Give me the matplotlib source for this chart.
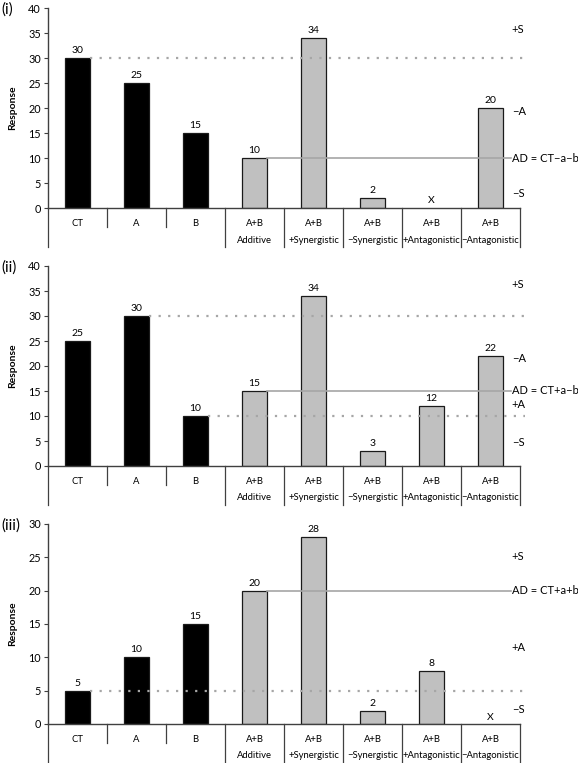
import numpy as np
import matplotlib
matplotlib.use("Agg")
import matplotlib.pyplot as plt

plt.rcParams['font.family'] = ['Lato', 'DejaVu Sans']

# categories (level 1) and groups (level 2)
categories = ["CT", "A", "B", "A+B", "A+B", "A+B", "A+B", "A+B"]
groups = ["", "Additive", "+Synergistic", "\u2212Synergistic", "+Antagonistic", "\u2212Antagonistic"]
group_spans = [(0, 2), (3, 3), (4, 4), (5, 5), (6, 6), (7, 7)]

# panel values, None = not possible ("X")
vals_i = [30, 25, 15, 10, 34, 2, None, 20]
vals_ii = [25, 30, 10, 15, 34, 3, 12, 22]
vals_iii = [5, 10, 15, 20, 28, 2, 8, None]

# reference lines: (level, index of bar the line starts after)
dotted_i = [(30, 0)]
dotted_ii = [(30, 1), (10, 2)]
dotted_iii = [(5, 0)]
ad_i = (10, 3)
ad_ii = (15, 3)
ad_iii = (20, 3)

# right-hand labels
right_i = [("+S", 35.8), ("\u2212A", 19.4), ("AD = CT\u2212a\u2212b", 10), ("\u2212S", 3.0)]
right_ii = [("+S", 36.2), ("\u2212A", 21.6), ("AD = CT+a\u2212b", 15), ("+A", 12.2), ("\u2212S", 4.6)]
right_iii = [("+S", 25.2), ("AD = CT+a+b", 20), ("+A", 11.5), ("\u2212S", 2.2)]

ymax = [40, 40, 30]
x_mark_y = [1.6, None, 1.0]
panel_names = ["(i)", "(ii)", "(iii)"]

fig = plt.figure(figsize=(5.78, 7.63), dpi=100)
W, H = 578, 763
left, right = 48, 520
tops = [8, 266, 524]
ph = 200

axis_col = "#404040"
line_col = "#a6a6a6"

panels = [
    (vals_i, dotted_i, ad_i, right_i),
    (vals_ii, dotted_ii, ad_ii, right_ii),
    (vals_iii, dotted_iii, ad_iii, right_iii),
]

bw = 0.41
for p, (vals, dotted, ad, rlabels) in enumerate(panels):
    top = tops[p]
    ax = fig.add_axes([left / W, 1 - (top + ph) / H, (right - left) / W, ph / H])
    colors = ["black"] * 3 + ["#c0c0c0"] * 5
    for i, v in enumerate(vals):
        if v is None:
            ax.text(i, x_mark_y[p], "X", ha="center", va="center", fontsize=7.5)
            continue
        ax.bar(i, v, width=bw, color=colors[i], edgecolor="#1a1a1a", linewidth=0.9, zorder=2)
        ax.text(i, v + 0.6 * ymax[p] / 40, str(v), ha="center", va="bottom", fontsize=7.5)

    ax.set_xlim(-0.5, 7.5)
    ax.set_ylim(0, ymax[p])
    ax.set_yticks(np.arange(0, ymax[p] + 1, 5))
    ax.tick_params(axis="y", labelsize=7.8, length=3, color=axis_col, pad=2)
    ax.set_xticks([])
    for s in ["top", "right"]:
        ax.spines[s].set_visible(False)
    for s in ["left", "bottom"]:
        ax.spines[s].set_color(axis_col)
        ax.spines[s].set_linewidth(1.0)
    ax.set_ylabel("Response", fontsize=7.5, fontweight="bold", labelpad=8)

    # reference lines drawn over the bars
    for lvl, start in dotted:
        ax.plot([start + bw / 2, 7.585], [lvl, lvl], color=line_col, lw=1.6,
                linestyle=(0, (1, 3.3)), zorder=3, clip_on=False)
    lvl, start = ad
    ax.plot([start + bw / 2, 7.35], [lvl, lvl], color=line_col, lw=1.2, zorder=3, clip_on=False)

    for txt, yv in rlabels:
        ax.text(7.36, yv, txt, ha="left", va="center", fontsize=8, clip_on=False)

    # two-level category axis
    tr = ax.get_xaxis_transform()
    for i, c in enumerate(categories):
        ax.text(i, -15 / ph, c, transform=tr, ha="center", va="center", fontsize=6.8)
    for g, (a, b) in zip(groups, group_spans):
        ax.text((a + b) / 2, -32 / ph, g, transform=tr, ha="center", va="center", fontsize=6.8)
    for k in range(1, 3):
        ax.plot([k - 0.5, k - 0.5], [0, -19 / ph], transform=tr, color=axis_col, lw=0.9, clip_on=False)
    for a, b in group_spans:
        ax.plot([a - 0.5, a - 0.5], [0, -39 / ph], transform=tr, color=axis_col, lw=0.9, clip_on=False)
    ax.plot([7.5, 7.5], [0, -39 / ph], transform=tr, color=axis_col, lw=0.9, clip_on=False)

    fig.text(1 / W, 1 - (top + 2) / H, panel_names[p], ha="left", va="center", fontsize=11)

fig.savefig("out.png", dpi=100)
